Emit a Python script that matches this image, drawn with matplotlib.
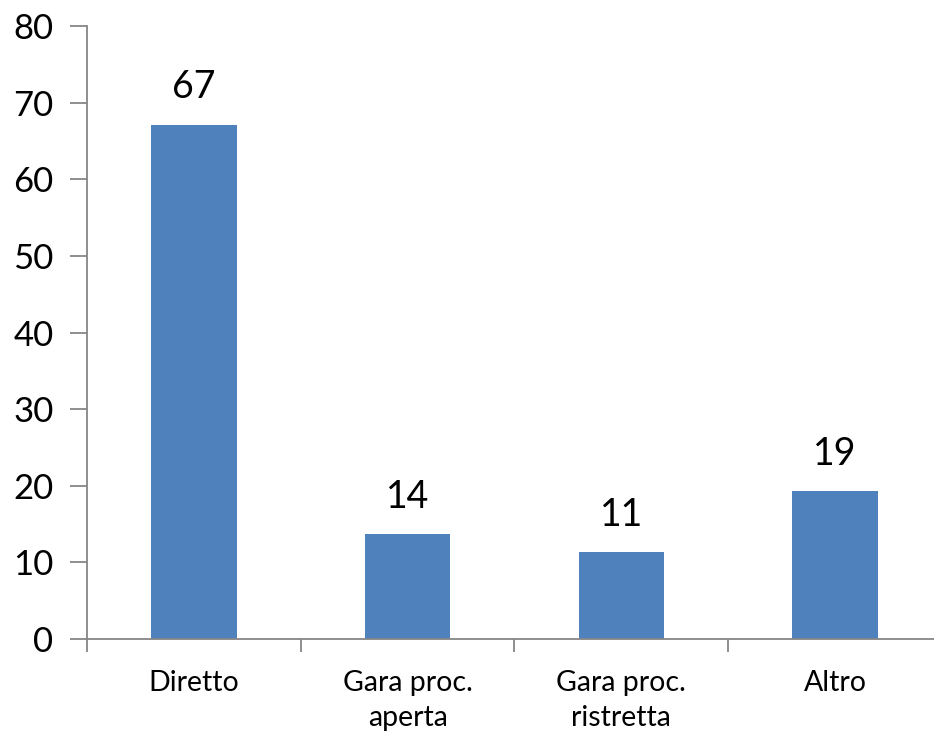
import matplotlib
matplotlib.use("Agg")
import matplotlib.pyplot as plt

# Procurement method categories and their shares
categories = ["Diretto", "Gara proc.\naperta", "Gara proc.\nristretta", "Altro"]
values = [67.1, 13.7, 11.35, 19.3]
yticks = [0, 10, 20, 30, 40, 50, 60, 70, 80]

plt.rcParams["font.family"] = ["Lato", "DejaVu Sans"]

bar_color = "#4F81BD"
axis_color = "#868686"

fig = plt.figure(figsize=(9.34, 7.34), dpi=100)
ax = fig.add_axes([0.0931, 0.1294, 0.9155, 0.8352])

x = range(len(categories))
ax.bar(x, values, width=0.4, color=bar_color, edgecolor="none", zorder=2)

for xi, v in zip(x, values):
    ax.annotate(f"{v:.0f}", (xi, v), xytext=(0, 14), textcoords="offset points",
                ha="center", va="bottom", fontsize=27)

ax.set_xlim(-0.5, len(categories) - 0.5)
ax.set_ylim(0, 80)
ax.set_yticks(yticks)
ax.set_yticklabels([str(t) for t in yticks], fontsize=25)

# category labels centred between boundary ticks
ax.set_xticks(list(x))
ax.set_xticklabels(categories, fontsize=20.5, linespacing=1.45)
ax.tick_params(axis="x", length=0, pad=22)
ax.set_xticks([i - 0.5 for i in range(len(categories) + 1)], minor=True)
ax.tick_params(axis="x", which="minor", length=9, width=1.3, color=axis_color, direction="out")
ax.tick_params(axis="y", length=12, width=1.3, color=axis_color, direction="out", pad=12)

for side in ["top", "right"]:
    ax.spines[side].set_visible(False)
for side in ["left", "bottom"]:
    ax.spines[side].set_color(axis_color)
    ax.spines[side].set_linewidth(1.3)

fig.savefig("out.png", dpi=100)
